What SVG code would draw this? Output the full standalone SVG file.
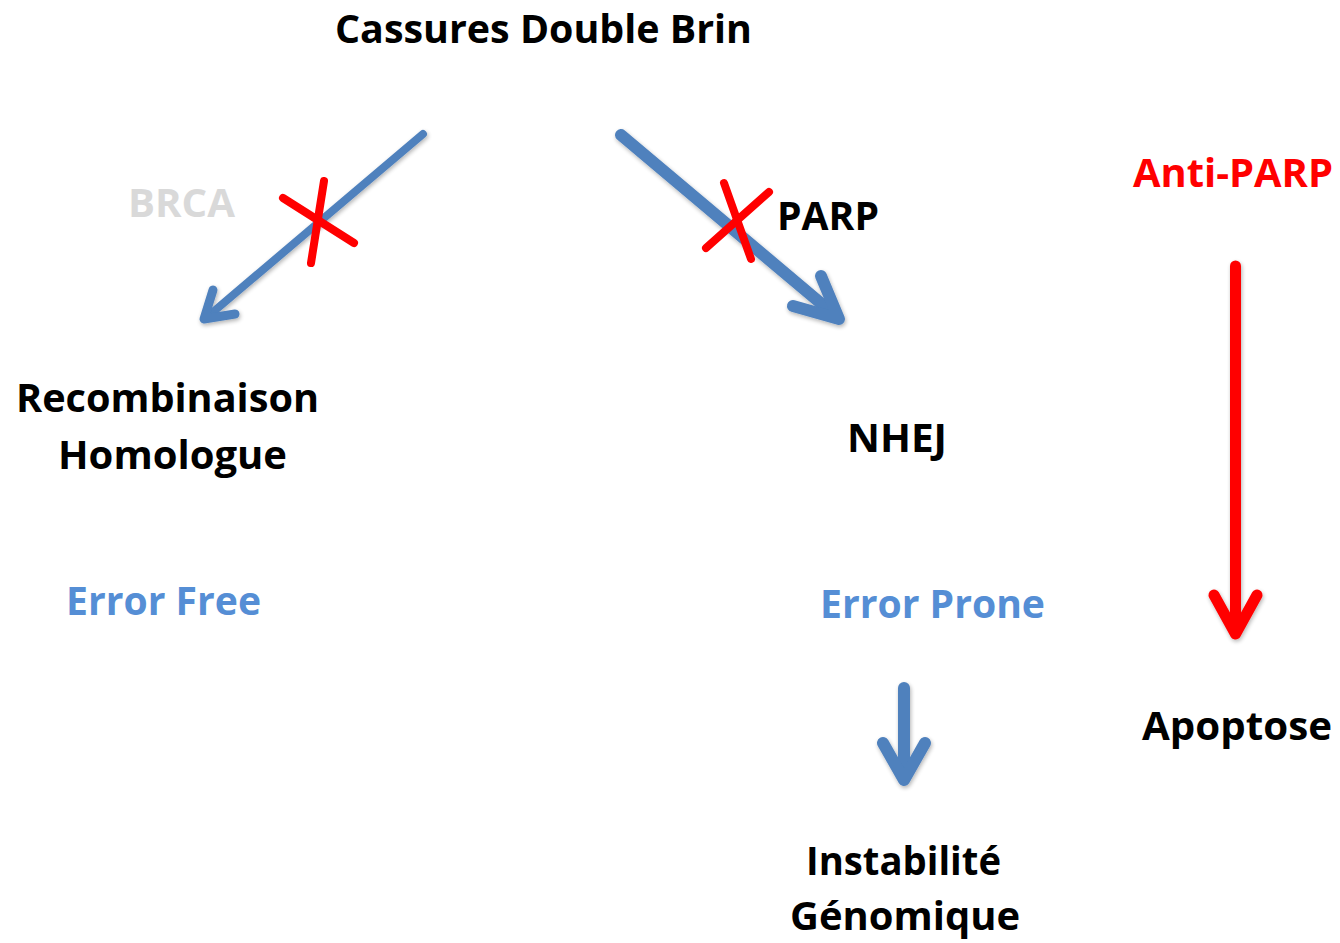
<svg xmlns="http://www.w3.org/2000/svg" width="1340" height="943" viewBox="0 0 1340 943">
<style>
.t{font-family:"Open Sans","Liberation Sans",sans-serif;font-weight:bold;font-size:40px;fill:#000}
.blue{fill:#558ed5}
.gray{fill:#d9d9d9}
.red{fill:#ff0000}
.ab{fill:none;stroke:#4f81bd;stroke-linecap:round;stroke-linejoin:round}
.ar{fill:none;stroke:#ff0000;stroke-linecap:round;stroke-linejoin:round}
.x{fill:none;stroke:#ff0000;stroke-width:8;stroke-linecap:round}
</style>
<defs>
<filter id="sh" x="-20%" y="-20%" width="140%" height="140%">
<feGaussianBlur in="SourceAlpha" stdDeviation="2"/>
<feOffset dx="1" dy="2" result="b"/>
<feComponentTransfer><feFuncA type="linear" slope="0.3"/></feComponentTransfer>
<feMerge><feMergeNode/><feMergeNode in="SourceGraphic"/></feMerge>
</filter>
</defs>
<rect width="1340" height="943" fill="#fff"/>
<g id="connectors" filter="url(#sh)">
<g id="arrow-brca">
<line class="ab" x1="423" y1="134" x2="206" y2="318" stroke-width="8"/>
<polyline class="ab" points="213,290 204,319 235,314" stroke-width="9"/>
</g>
<g id="arrow-parp">
<line class="ab" x1="621" y1="135" x2="836" y2="316" stroke-width="12"/>
<polyline class="ab" points="821,276 839,319 793,306" stroke-width="12"/>
</g>
<g id="arrow-antiparp">
<line class="ar" x1="1235.5" y1="266" x2="1235.5" y2="632" stroke-width="11" stroke-linecap="butt"/>
<polyline class="ar" points="1214,595 1235.5,634 1257,595" stroke-width="11"/>
</g>
<g id="arrow-nhej">
<line class="ab" x1="904" y1="688" x2="904" y2="778" stroke-width="12" stroke-linecap="butt"/>
<polyline class="ab" points="883,743 904,780 925,743" stroke-width="12"/>
</g>
</g>
<g id="x-marks">
<g id="x-brca">
<line class="x" x1="283" y1="198" x2="354" y2="243"/>
<line class="x" x1="324" y1="181" x2="311" y2="263"/>
</g>
<g id="x-parp">
<line class="x" x1="769" y1="192" x2="706" y2="248"/>
<line class="x" x1="724" y1="183" x2="751" y2="259"/>
</g>
</g>
<g id="node-cassures"><text class="t" x="335" y="43" textLength="417" lengthAdjust="spacingAndGlyphs">Cassures Double Brin</text></g>
<g id="node-brca"><text class="t gray" x="128" y="217" textLength="107" lengthAdjust="spacingAndGlyphs">BRCA</text></g>
<g id="node-parp"><text class="t" x="777" y="230" textLength="102" lengthAdjust="spacingAndGlyphs">PARP</text></g>
<g id="node-antiparp"><text class="t red" x="1133" y="187" textLength="200" lengthAdjust="spacingAndGlyphs">Anti-PARP</text></g>
<g id="node-recombinaison">
<text class="t" x="16" y="412" textLength="303" lengthAdjust="spacingAndGlyphs">Recombinaison</text>
<text class="t" x="58" y="469" textLength="229" lengthAdjust="spacingAndGlyphs">Homologue</text>
</g>
<g id="node-nhej"><text class="t" x="847" y="452" textLength="100" lengthAdjust="spacingAndGlyphs">NHEJ</text></g>
<g id="node-errorfree"><text class="t blue" x="66" y="615" textLength="195" lengthAdjust="spacingAndGlyphs">Error Free</text></g>
<g id="node-errorprone"><text class="t blue" x="820" y="618" textLength="225" lengthAdjust="spacingAndGlyphs">Error Prone</text></g>
<g id="node-apoptose"><text class="t" x="1142" y="740" textLength="190" lengthAdjust="spacingAndGlyphs">Apoptose</text></g>
<g id="node-instabilite">
<text class="t" x="806" y="875" textLength="195" lengthAdjust="spacingAndGlyphs">Instabilité</text>
<text class="t" x="790" y="930" textLength="230" lengthAdjust="spacingAndGlyphs">Génomique</text>
</g>
</svg>
